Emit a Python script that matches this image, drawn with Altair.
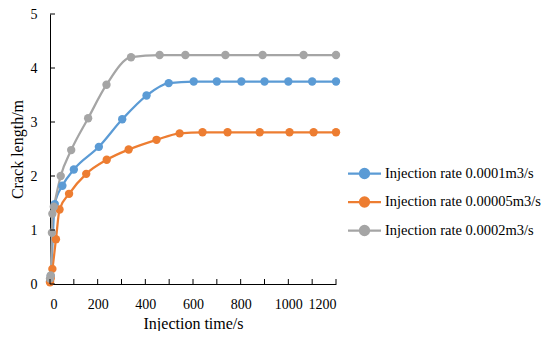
import altair as alt
import pandas as pd

series_names = ["Injection rate 0.0001m3/s", "Injection rate 0.00005m3/s", "Injection rate 0.0002m3/s"]
colors = ["#5B9BD5", "#ED7D31", "#A5A5A5"]

t_blue = [0, 3, 20, 52, 100, 205, 303, 405, 498, 603, 700, 803, 900, 1000, 1100, 1200]
v_blue = [0.05, 0.15, 1.48, 1.82, 2.12, 2.54, 3.05, 3.49, 3.72, 3.75, 3.75, 3.75, 3.75, 3.75, 3.75, 3.75]

t_orange = [0, 3, 10, 25, 40, 80, 152, 238, 330, 447, 544, 640, 745, 880, 1005, 1106, 1200]
v_orange = [0.03, 0.1, 0.28, 0.83, 1.38, 1.67, 2.04, 2.3, 2.49, 2.67, 2.79, 2.81, 2.81, 2.81, 2.81, 2.81, 2.81]

t_gray = [0, 3, 8, 10, 16, 45, 89, 160, 237, 340, 460, 568, 736, 892, 1064, 1200]
v_gray = [0.1, 0.16, 0.95, 1.3, 1.43, 2.0, 2.48, 3.07, 3.69, 4.2, 4.24, 4.24, 4.24, 4.24, 4.24, 4.24]

x_ticks = list(range(0, 1201, 100))
x_labels = list(range(0, 1201, 200))
y_ticks = [0, 1, 2, 3, 4, 5]

rows = []
for name, ts, vs in zip(series_names, [t_blue, t_orange, t_gray], [v_blue, v_orange, v_gray]):
    for t, v in zip(ts, vs):
        rows.append({"series": name, "t": t, "v": v})
df = pd.DataFrame(rows)

FONT = "Liberation Serif"
W, H = 286, 270

xscale = alt.Scale(domain=[0, 1200], nice=False)
yscale = alt.Scale(domain=[0, 5], nice=False)
color = alt.Color(
    "series:N",
    scale=alt.Scale(domain=series_names, range=colors),
    sort=series_names,
    legend=alt.Legend(
        title=None,
        orient="none",
        legendX=305,
        legendY=150,
        symbolType="M-2,0H2M-0.55,0a0.55,0.55 0 1,0 1.1,0a0.55,0.55 0 1,0 -1.1,0",
        symbolSize=272,
        symbolStrokeWidth=2.25,
        labelFont=FONT,
        labelFontSize=14.5,
        labelColor="#000000",
        labelLimit=300,
        rowPadding=9.5,
        labelOffset=11,
    ),
)

base = alt.Chart(df).encode(
    x=alt.X(
        "t:Q",
        scale=xscale,
        axis=alt.Axis(
            values=x_labels,
            format="d",
            ticks=False,
            tickSize=0,
            grid=False,
            domainColor="#000000",
            domainWidth=1,
            labelFont=FONT,
            labelFontSize=14,
            labelColor="#000000",
            labelPadding=13,
            title="Injection time/s",
            titleFont=FONT,
            titleFontSize=16,
            titleFontWeight="normal",
            titleColor="#000000",
            titlePadding=4,
        ),
    ),
    y=alt.Y(
        "v:Q",
        scale=yscale,
        axis=alt.Axis(
            values=y_ticks,
            format="d",
            ticks=False,
            tickSize=0,
            grid=False,
            domainColor="#000000",
            domainWidth=1,
            labelFont=FONT,
            labelFontSize=14,
            labelColor="#000000",
            labelPadding=13,
            title="Crack length/m",
            titleFont=FONT,
            titleFontSize=16,
            titleFontWeight="normal",
            titleColor="#000000",
            titlePadding=5,
        ),
    ),
    color=color,
)

lines = base.mark_line(interpolate="monotone", strokeWidth=2.25, point=alt.OverlayMarkDef(filled=True, size=70, opacity=1))

xt = pd.DataFrame({"t": x_ticks})
xtick_layer = alt.Chart(xt).mark_rule(color="#000000", strokeWidth=1).encode(
    x=alt.X("t:Q", scale=xscale),
    y=alt.value(H),
    y2=alt.value(H - 5),
)
yt = pd.DataFrame({"v": y_ticks})
ytick_layer = alt.Chart(yt).mark_rule(color="#000000", strokeWidth=1).encode(
    y=alt.Y("v:Q", scale=yscale),
    x=alt.value(0),
    x2=alt.value(5),
)

chart = alt.layer(lines, xtick_layer, ytick_layer).properties(
    width=W,
    height=H,
    autosize="none",
    padding={"left": 42, "top": 6, "right": 206, "bottom": 47},
).configure_view(stroke=None)

chart.save("out.html", embed_options={"renderer": "svg", "actions": False})
